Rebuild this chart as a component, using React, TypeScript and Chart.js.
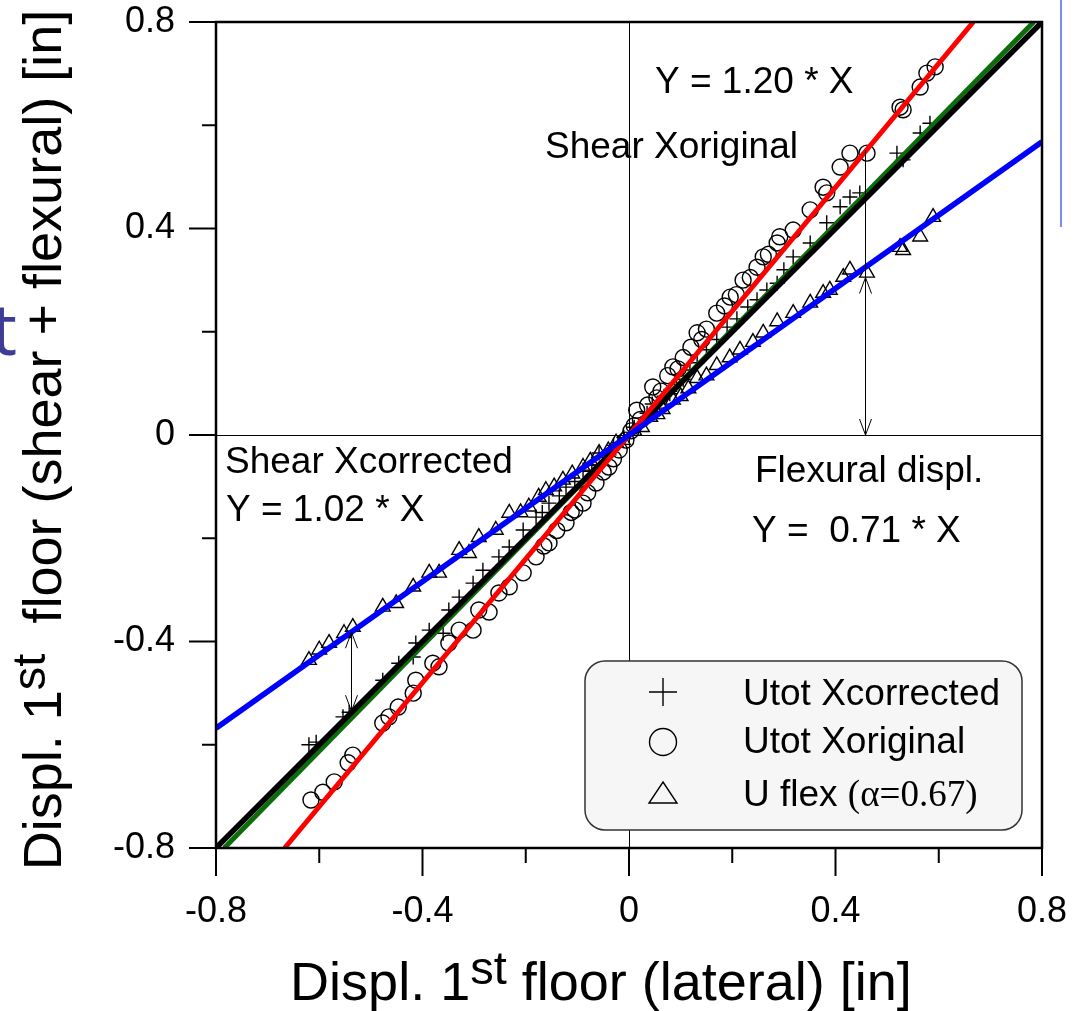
import React, { useEffect, useRef } from 'react';
import { Chart, registerables } from 'chart.js';

Chart.register(...registerables);

const AXIS_MIN = -0.8;
const AXIS_MAX = 0.8;
const MAJOR_TICKS = [-0.8, -0.4, 0, 0.4, 0.8];
const MINOR_TICKS = [-0.6, -0.2, 0.2, 0.6];

// Utot Xoriginal (circles) [x, y]
const origPts: number[][] = [
  [-0.616, -0.707], [-0.593, -0.692], [-0.571, -0.672], [-0.544, -0.635], [-0.535, -0.620], [-0.477, -0.558], [-0.465, -0.546], [-0.447, -0.527], [-0.418, -0.500], [-0.413, -0.475],
  [-0.380, -0.442], [-0.368, -0.449], [-0.349, -0.403], [-0.329, -0.378], [-0.302, -0.378], [-0.291, -0.339], [-0.271, -0.343], [-0.252, -0.306], [-0.232, -0.294], [-0.205, -0.267],
  [-0.180, -0.236], [-0.165, -0.215], [-0.155, -0.209], [-0.140, -0.185], [-0.122, -0.170], [-0.112, -0.150], [-0.105, -0.145], [-0.089, -0.132], [-0.080, -0.112], [-0.064, -0.093],
  [-0.050, -0.072], [-0.039, -0.062], [-0.030, -0.046], [-0.019, -0.029], [-0.006, -0.010], [0.004, 0.008], [0.010, 0.018], [0.015, 0.048], [0.022, 0.030], [0.036, 0.058],
  [0.046, 0.093], [0.054, 0.072], [0.062, 0.085], [0.075, 0.115], [0.085, 0.132], [0.095, 0.128], [0.105, 0.150], [0.120, 0.170], [0.132, 0.198], [0.141, 0.185],
  [0.150, 0.205], [0.170, 0.236], [0.185, 0.250], [0.196, 0.267], [0.208, 0.272], [0.221, 0.300], [0.235, 0.305], [0.248, 0.325], [0.260, 0.345], [0.270, 0.350],
  [0.287, 0.372], [0.292, 0.384], [0.318, 0.397], [0.351, 0.436], [0.376, 0.480], [0.383, 0.469], [0.409, 0.519], [0.428, 0.546], [0.461, 0.546], [0.525, 0.635],
  [0.531, 0.630], [0.564, 0.674], [0.577, 0.701], [0.593, 0.713],
];

// Utot Xcorrected (plus) [x, y]
const corrPts: number[][] = [
  [-0.620, -0.600], [-0.606, -0.595], [-0.554, -0.546], [-0.542, -0.537], [-0.477, -0.475], [-0.446, -0.442], [-0.418, -0.430], [-0.413, -0.403], [-0.387, -0.378], [-0.360, -0.384],
  [-0.349, -0.339], [-0.329, -0.314], [-0.302, -0.287], [-0.283, -0.262], [-0.252, -0.236], [-0.232, -0.217], [-0.205, -0.184], [-0.180, -0.159], [-0.168, -0.150], [-0.155, -0.132],
  [-0.135, -0.118], [-0.122, -0.101], [-0.105, -0.090], [-0.089, -0.068], [-0.072, -0.058], [-0.058, -0.035], [-0.045, -0.040], [-0.030, -0.020], [-0.020, -0.015], [-0.010, -0.005],
  [0.010, 0.015], [0.022, 0.020], [0.035, 0.042], [0.045, 0.060], [0.055, 0.052], [0.068, 0.075], [0.079, 0.080], [0.092, 0.098], [0.105, 0.108], [0.118, 0.126],
  [0.132, 0.140], [0.150, 0.165], [0.170, 0.185], [0.190, 0.209], [0.209, 0.225], [0.230, 0.248], [0.248, 0.262], [0.267, 0.281], [0.287, 0.294], [0.300, 0.320],
  [0.318, 0.345], [0.351, 0.372], [0.383, 0.411], [0.409, 0.442], [0.428, 0.461], [0.447, 0.469], [0.519, 0.546], [0.531, 0.533], [0.564, 0.585], [0.583, 0.604],
];

// U flex (triangles) [x, y]
const flexPts: number[][] = [
  [-0.620, -0.436], [-0.600, -0.416], [-0.581, -0.403], [-0.552, -0.384], [-0.535, -0.372], [-0.477, -0.333], [-0.451, -0.326], [-0.418, -0.294], [-0.387, -0.267], [-0.368, -0.267],
  [-0.329, -0.223], [-0.310, -0.229], [-0.291, -0.198], [-0.258, -0.184], [-0.232, -0.151], [-0.210, -0.150], [-0.194, -0.139], [-0.175, -0.120], [-0.161, -0.107], [-0.145, -0.100],
  [-0.128, -0.087], [-0.110, -0.075], [-0.089, -0.062], [-0.075, -0.050], [-0.058, -0.035], [-0.040, -0.030], [-0.025, -0.015], [-0.012, -0.010], [0.010, 0.008], [0.025, 0.015],
  [0.041, 0.035], [0.055, 0.040], [0.065, 0.050], [0.085, 0.068], [0.100, 0.075], [0.115, 0.090], [0.132, 0.110], [0.150, 0.115], [0.170, 0.135], [0.195, 0.150],
  [0.215, 0.165], [0.240, 0.180], [0.260, 0.198], [0.287, 0.220], [0.318, 0.236], [0.351, 0.256], [0.376, 0.275], [0.389, 0.281], [0.415, 0.306], [0.428, 0.320],
  [0.461, 0.314], [0.525, 0.364], [0.531, 0.358], [0.564, 0.384], [0.589, 0.422],
];

// Fit lines (end points) [x, y]
const lineBlack: number[][] = [[-0.8, -0.8], [0.8, 0.8]];
const lineGreen: number[][] = [[-0.784, -0.8], [0.784, 0.8]];
const lineRed: number[][] = [[-0.667, -0.8], [0.667, 0.8]];
const lineBlue: number[][] = [[-0.8, -0.568], [0.8, 0.568]];

// Arrows
const arrowFlexX = 0.457;
const arrowFlexY = [0.552, 0.305, 0];
const arrowShearX = -0.539;
const arrowShearY = [-0.382, -0.535];

const SANS = '"Liberation Sans", Arial, Helvetica, sans-serif';
const SERIF = '"Liberation Serif", "Times New Roman", serif';

const pts = (arr: number[][]) => arr.map(([x, y]) => ({ x, y }));

const fmt = (v: any) => {
  const r = Math.round(Number(v) * 10) / 10;
  return r === 0 ? '0' : String(r);
};

function drawArrowHead(ctx: CanvasRenderingContext2D, x: number, y: number, dir: number) {
  ctx.beginPath();
  ctx.moveTo(x - 6, y - dir * 16);
  ctx.lineTo(x, y);
  ctx.lineTo(x + 6, y - dir * 16);
  ctx.stroke();
}

const decorPlugin = {
  id: 'decor',
  beforeDatasetsDraw(chart: any) {
    const { ctx, chartArea: a, scales } = chart;
    const x0 = Math.round(scales.x.getPixelForValue(0)) + 0.5;
    const y0 = Math.round(scales.y.getPixelForValue(0)) + 0.5;
    ctx.save();
    ctx.strokeStyle = '#000';
    ctx.lineWidth = 1;
    ctx.beginPath();
    ctx.moveTo(x0, a.top);
    ctx.lineTo(x0, a.bottom);
    ctx.moveTo(a.left, y0);
    ctx.lineTo(a.right, y0);
    ctx.stroke();
    ctx.restore();
  },
  afterDraw(chart: any) {
    const { ctx, chartArea: a, scales } = chart;
    const sx = scales.x, sy = scales.y;
    ctx.save();

    ctx.strokeStyle = '#000';
    ctx.lineWidth = 2.5;
    ctx.strokeRect(a.left, a.top, a.right - a.left, a.bottom - a.top);

    ctx.lineWidth = 2;
    ctx.beginPath();
    MAJOR_TICKS.forEach(v => {
      const py = sy.getPixelForValue(v);
      ctx.moveTo(a.left - 27, py); ctx.lineTo(a.left, py);
      const px = sx.getPixelForValue(v);
      ctx.moveTo(px, a.bottom); ctx.lineTo(px, a.bottom + 28);
    });
    MINOR_TICKS.forEach(v => {
      const py = sy.getPixelForValue(v);
      ctx.moveTo(a.left - 14, py); ctx.lineTo(a.left, py);
      const px = sx.getPixelForValue(v);
      ctx.moveTo(px, a.bottom); ctx.lineTo(px, a.bottom + 15);
    });
    ctx.stroke();

    ctx.lineWidth = 1;
    {
      const px = Math.round(sx.getPixelForValue(arrowFlexX)) + 0.5;
      const yTop = sy.getPixelForValue(arrowFlexY[0]);
      const yMid = sy.getPixelForValue(arrowFlexY[1]);
      const yBot = sy.getPixelForValue(arrowFlexY[2]);
      ctx.beginPath(); ctx.moveTo(px, yTop); ctx.lineTo(px, yBot); ctx.stroke();
      drawArrowHead(ctx, px, yMid, -1);
      drawArrowHead(ctx, px, yBot, 1);
    }
    {
      const px = Math.round(sx.getPixelForValue(arrowShearX)) + 0.5;
      const yTop = sy.getPixelForValue(arrowShearY[0]);
      const yBot = sy.getPixelForValue(arrowShearY[1]);
      ctx.beginPath(); ctx.moveTo(px, yTop); ctx.lineTo(px, yBot); ctx.stroke();
      drawArrowHead(ctx, px, yTop, -1);
      drawArrowHead(ctx, px, yBot, 1);
    }

    ctx.fillStyle = '#000';
    ctx.textBaseline = 'alphabetic';
    ctx.textAlign = 'left';
    ctx.font = `37px ${SANS}`;
    ctx.fillText('Y = 1.20 * X', 655, 93);
    ctx.fillText('Shear Xoriginal', 545, 158);
    ctx.fillText('Shear Xcorrected', 225, 473);
    ctx.fillText('Y = 1.02 * X', 226, 521);
    ctx.fillText('Flexural displ.', 755, 482);
    ctx.fillText('Y =  0.71 * X', 752, 542);

    const lx = 585, ly = 661, lw = 437, lh = 169, r = 20;
    ctx.beginPath();
    ctx.moveTo(lx + r, ly);
    ctx.lineTo(lx + lw - r, ly);
    ctx.arcTo(lx + lw, ly, lx + lw, ly + r, r);
    ctx.lineTo(lx + lw, ly + lh - r);
    ctx.arcTo(lx + lw, ly + lh, lx + lw - r, ly + lh, r);
    ctx.lineTo(lx + r, ly + lh);
    ctx.arcTo(lx, ly + lh, lx, ly + lh - r, r);
    ctx.lineTo(lx, ly + r);
    ctx.arcTo(lx, ly, lx + r, ly, r);
    ctx.closePath();
    ctx.fillStyle = '#f6f6f6';
    ctx.fill();
    ctx.strokeStyle = '#333';
    ctx.lineWidth = 1.5;
    ctx.stroke();

    ctx.strokeStyle = '#000';
    ctx.lineWidth = 1.4;
    const mx = 663;
    ctx.beginPath();
    ctx.moveTo(mx - 14, 692); ctx.lineTo(mx + 14, 692);
    ctx.moveTo(mx, 678); ctx.lineTo(mx, 706);
    ctx.stroke();
    ctx.beginPath();
    ctx.arc(mx, 742, 13.5, 0, Math.PI * 2);
    ctx.stroke();
    ctx.beginPath();
    ctx.moveTo(mx, 782); ctx.lineTo(mx + 14, 803); ctx.lineTo(mx - 14, 803); ctx.closePath();
    ctx.stroke();

    ctx.fillStyle = '#000';
    ctx.font = `37px ${SANS}`;
    ctx.fillText('Utot Xcorrected', 743, 705);
    ctx.fillText('Utot Xoriginal', 743, 753);
    ctx.fillText('U flex ', 743, 806);
    const w1 = ctx.measureText('U flex ').width;
    ctx.font = `37px ${SERIF}`;
    ctx.fillText('(\u03b1=0.67)', 743 + w1, 806);

    const drawTitle = (parts: Array<[string, boolean]>, x: number, y: number) => {
      const mainFont = `54px ${SANS}`;
      const supFont = `47px ${SANS}`;
      let total = 0;
      parts.forEach(([t, sup]) => { ctx.font = sup ? supFont : mainFont; total += ctx.measureText(t).width; });
      let cx = x - total / 2;
      parts.forEach(([t, sup]) => {
        ctx.font = sup ? supFont : mainFont;
        ctx.fillText(t, cx, sup ? y - 16 : y);
        cx += ctx.measureText(t).width;
      });
    };
    ctx.fillStyle = '#000';
    drawTitle([['Displ. 1', false], ['st', true], [' floor (lateral) [in]', false]], 601, 1000);

    ctx.save();
    ctx.translate(61, 440);
    ctx.rotate(-Math.PI / 2);
    drawTitle([['Displ. 1', false], ['st', true], ['  floor (shear + flexural) [in]', false]], 0, 0);
    ctx.restore();

    ctx.fillStyle = '#3d3d96';
    ctx.font = `72px "Noto Sans", sans-serif`;
    ctx.fillText('t', -9, 355);
    ctx.strokeStyle = '#7a8cf0';
    ctx.lineWidth = 2;
    ctx.beginPath(); ctx.moveTo(1061, 0); ctx.lineTo(1061, 227); ctx.stroke();

    ctx.restore();
  },
};

export default function App() {
  const ref = useRef<HTMLCanvasElement>(null);
  useEffect(() => {
    if (!ref.current) return;
    const lineDs = (arr: number[][], color: string, w: number) => ({
      type: 'scatter' as const,
      data: pts(arr),
      showLine: true,
      borderColor: color,
      backgroundColor: color,
      borderWidth: w,
      pointRadius: 0,
      fill: false,
    });
    const markDs = (arr: number[][], style: string, r: number) => ({
      type: 'scatter' as const,
      data: pts(arr),
      showLine: false,
      pointStyle: style,
      pointRadius: r,
      pointBorderColor: '#000',
      pointBackgroundColor: 'rgba(0,0,0,0)',
      pointBorderWidth: 1.4,
      borderColor: '#000',
      backgroundColor: 'rgba(0,0,0,0)',
    });
    const chart = new Chart(ref.current, {
      type: 'scatter',
      data: {
        datasets: [
          lineDs(lineBlue, '#0000ff', 5.5),
          lineDs(lineRed, '#ff0000', 5),
          lineDs(lineBlack, '#000000', 5.5),
          lineDs(lineGreen, '#0b6e0b', 5),
          markDs(flexPts, 'triangle', 8.5),
          markDs(origPts, 'circle', 8),
          markDs(corrPts, 'cross', 7.5),
        ] as any,
      },
      options: {
        animation: false,
        responsive: false,
        events: [],
        layout: { padding: { top: 22, right: 40, left: 0, bottom: 0 } },
        plugins: { legend: { display: false }, tooltip: { enabled: false } },
        scales: {
          x: {
            type: 'linear',
            min: AXIS_MIN,
            max: AXIS_MAX,
            position: 'bottom',
            afterFit: (s: any) => { s.height = 163; s.paddingLeft = 0; s.paddingRight = 0; s.paddingTop = 0; s.paddingBottom = 0; },
            grid: { display: false, drawTicks: false },
            border: { display: false },
            ticks: { stepSize: 0.4, padding: 42, color: '#000', font: { family: SANS, size: 36 }, callback: fmt, maxRotation: 0, autoSkip: false },
          },
          y: {
            type: 'linear',
            min: AXIS_MIN,
            max: AXIS_MAX,
            position: 'left',
            afterFit: (s: any) => { s.width = 216; s.paddingLeft = 0; s.paddingRight = 0; s.paddingTop = 0; s.paddingBottom = 0; },
            grid: { display: false, drawTicks: false },
            border: { display: false },
            ticks: { stepSize: 0.4, padding: 41, color: '#000', font: { family: SANS, size: 36 }, callback: fmt, autoSkip: false },
          },
        },
      } as any,
      plugins: [decorPlugin],
    });
    return () => chart.destroy();
  }, []);
  return (
    <div style={{ position: 'absolute', left: 0, top: 0, width: 1082, height: 1011, background: '#fff' }}>
      <canvas ref={ref} width={1082} height={1011} style={{ display: 'block' }} />
    </div>
  );
}
